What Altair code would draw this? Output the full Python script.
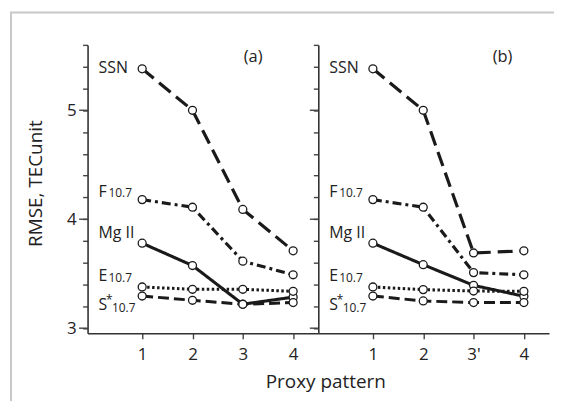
import json
import altair as alt
import pandas as pd

# ---------------- data ----------------
patterns = [1, 2, 3, 4]
tick_labels_a = ["1", "2", "3", "4"]
tick_labels_b = ["1", "2", "3'", "4"]
series = ["SSN", "F10.7", "Mg II", "E10.7", "S*10.7"]

ssn_a = [5.38, 5.00, 4.09, 3.71]
f107_a = [4.18, 4.11, 3.615, 3.49]
mg2_a = [3.78, 3.575, 3.22, 3.285]
e107_a = [3.378, 3.357, 3.357, 3.338]
s107_a = [3.295, 3.256, 3.219, 3.235]

ssn_b = [5.38, 5.00, 3.69, 3.71]
f107_b = [4.18, 4.11, 3.51, 3.49]
mg2_b = [3.78, 3.583, 3.393, 3.293]
e107_b = [3.378, 3.354, 3.341, 3.338]
s107_b = [3.295, 3.25, 3.235, 3.235]

y_ticks = [3.0, 3.2, 3.4, 3.6, 3.8, 4.0, 4.2, 4.4, 4.6, 4.8, 5.0, 5.2, 5.4, 5.6]
y_major = [3, 4, 5]

# series label annotations (data coordinates)
lab_main_text = ["SSN", "F", "Mg II", "E", "S"]
lab_main_y = [5.344, 4.201, 3.828, 3.433, 3.165]
lab_sub_text = ["10.7", "10.7", "10.7"]
lab_sub_y = [4.201, 3.423, 3.149]
lab_sub_x = [0.33, 0.33, 0.40]
lab_star_y = [3.219]

FONT = "Open Sans"
INK = "#1a1a1a"
TXT = "#222222"
X_DOM = [-0.085, 4.5]
Y_DOM = [2.953, 5.6]
W, H = 232, 290


def long_form(cols):
    rows = []
    for s, vals in zip(series, cols):
        for x, v in zip(patterns, vals):
            rows.append({"series": s, "x": x, "v": v})
    return pd.DataFrame(rows)


df_a = long_form([ssn_a, f107_a, mg2_a, e107_a, s107_a])
df_b = long_form([ssn_b, f107_b, mg2_b, e107_b, s107_b])

main_df = pd.DataFrame({"x": [0.132] * len(lab_main_text), "v": lab_main_y, "t": lab_main_text})
sub_df = pd.DataFrame({"x": lab_sub_x, "v": lab_sub_y, "t": lab_sub_text})
star_df = pd.DataFrame({"x": [0.28], "v": lab_star_y, "t": ["*"]})
major_df = pd.DataFrame({"v": y_major})

xscale = alt.Scale(domain=X_DOM, nice=False, zero=False)
yscale = alt.Scale(domain=Y_DOM, nice=False, zero=False)

dashes = [[15, 7], [9, 4, 3, 4], [1, 0], [2.5, 2.5], [11, 5]]
widths = [3.2, 3.0, 2.7, 3.0, 3.2]


def panel(df, tick_labels, tag, tag_x, first):
    label_expr = f"{json.dumps(tick_labels)}[datum.value - 1]"
    if first:
        xaxis = alt.Axis(values=patterns, labelExpr=label_expr, tickSize=5.5,
                         labelBaseline="alphabetic", labelPadding=20.8,
                         titleX=239, titleY=54.3,
                         titleBaseline="alphabetic", titleAlign="center")
        yaxis = alt.Axis(values=y_ticks, tickSize=5,
                         labelExpr="indexof([3,4,5], datum.value) >= 0 ? format(datum.value, 'd') : ''",
                         labelPadding=6.5, titleX=-46.7, titleY=139,
                         titleBaseline="alphabetic", titleAngle=270, titleAlign="center")
        xt, yt = "Proxy pattern", "RMSE, TECunit"
    else:
        xaxis = alt.Axis(values=patterns, labelExpr=label_expr, tickSize=5.5,
                         labelBaseline="alphabetic", labelPadding=20.8)
        yaxis = alt.Axis(values=y_ticks, tickSize=5, labels=False)
        xt, yt = None, None

    def X():
        return alt.X("x:Q", scale=xscale, axis=xaxis, title=xt)

    def Y(field="v"):
        return alt.Y(f"{field}:Q", scale=yscale, axis=yaxis, title=yt)

    lines = alt.Chart(df).mark_line().encode(
        x=X(), y=Y(),
        strokeDash=alt.StrokeDash("series:N", scale=alt.Scale(domain=series, range=dashes), legend=None),
        strokeWidth=alt.StrokeWidth("series:N", scale=alt.Scale(domain=series, range=widths), legend=None),
        color=alt.value(INK),
    )
    pts = alt.Chart(df).mark_point(shape="circle", filled=True, fill="white", stroke=INK,
                                   strokeWidth=1.3, size=64, opacity=1).encode(x=X(), y=Y())
    major = alt.Chart(major_df).mark_rule(color="#444444", strokeWidth=1.4).encode(
        y=Y(), x=alt.value(-8.5), x2=alt.value(0)
    )
    t_main = alt.Chart(main_df).mark_text(align="left", baseline="alphabetic", font=FONT,
                                          fontSize=16, color=TXT).encode(x=X(), y=Y(), text="t:N")
    t_sub = alt.Chart(sub_df).mark_text(align="left", baseline="alphabetic", font=FONT,
                                        fontSize=12, color=TXT).encode(x=X(), y=Y(), text="t:N")
    t_star = alt.Chart(star_df).mark_text(align="left", baseline="alphabetic", font=FONT,
                                          fontSize=12, color=TXT).encode(x=X(), y=Y(), text="t:N")
    t_tag = alt.Chart(pd.DataFrame({"x": [tag_x], "v": [5.446], "t": [tag]})).mark_text(
        align="center", baseline="alphabetic", font=FONT, fontSize=16.5, color=TXT).encode(
        x=X(), y=Y(), text="t:N")
    layers = [lines, pts, major, t_main, t_sub, t_star, t_tag]
    if first:
        one = pd.DataFrame({"a": [0]})
        b_left = alt.Chart(one).mark_rule(color="#c8c8c8", strokeWidth=2).encode(
            x=alt.value(-77), y=alt.value(-32.5), y2=alt.value(358))
        b_top = alt.Chart(one).mark_rule(color="#c8c8c8", strokeWidth=2).encode(
            x=alt.value(-78), x2=alt.value(469), y=alt.value(-32.5))
        layers = layers + [b_left, b_top]
    return alt.layer(*layers).properties(width=W, height=H)


left = panel(df_a, tick_labels_a, "(a)", 3.205, True)
right = panel(df_b, tick_labels_b, "(b)", 3.577, False)

chart = alt.hconcat(left, right, spacing=0, bounds="flush").properties(
    padding={"left": 0, "top": 2, "right": 0, "bottom": 0}
).configure_view(stroke="transparent").configure_axis(
    domainColor="#333333", domainWidth=1.6, tickColor="#444444", tickWidth=1.4,
    labelFont=FONT, labelFontSize=17, labelColor=TXT, titleFont=FONT, titleFontSize=19,
    titleFontWeight="normal", titleColor=TXT, grid=False,
)

chart.save("out.html", embed_options={"renderer": "svg", "actions": False})
